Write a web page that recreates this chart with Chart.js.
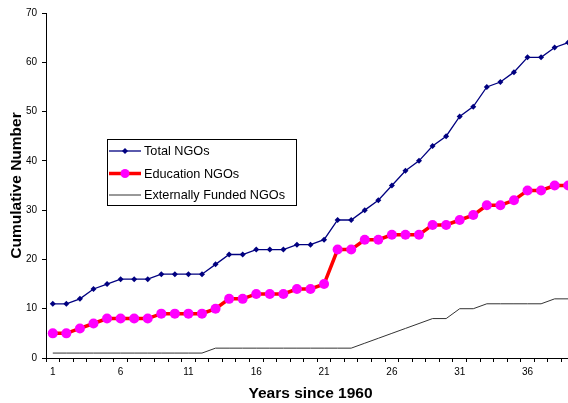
<!DOCTYPE html>
<html>
<head>
<meta charset="utf-8">
<script src="https://cdn.jsdelivr.net/npm/chart.js@4/dist/chart.umd.min.js"></script>
<style>
  html, body { margin: 0; padding: 0; background: #fff; overflow: hidden; }
  #wrap { width: 580px; height: 403px; position: relative; }
</style>
</head>
<body>
<div id="wrap"><canvas id="c"></canvas></div>
<script>
// Years since 1960 (category axis)
const years = [1,2,3,4,5,6,7,8,9,10,11,12,13,14,15,16,17,18,19,20,
               21,22,23,24,25,26,27,28,29,30,31,32,33,34,35,36,37,38,39];

// Cumulative counts per year
const totalNGOs = [11,11,12,14,15,16,16,16,17,17,17,17,19,21,21,22,22,22,23,23,
                   24,28,28,30,32,35,38,40,43,45,49,51,55,56,58,61,61,63,64];
const educationNGOs = [5,5,6,7,8,8,8,8,9,9,9,9,10,12,12,13,13,13,14,14,
                       15,22,22,24,24,25,25,25,27,27,28,29,31,31,32,34,34,35,35];
const externalNGOs = [1,1,1,1,1,1,1,1,1,1,1,1,2,2,2,2,2,2,2,2,
                      2,2,2,3,4,5,6,7,8,8,10,10,11,11,11,11,11,12,12];

const yTicks = [0,10,20,30,40,50,60,70];

const seriesNames = ['Total NGOs', 'Education NGOs', 'Externally Funded NGOs'];

const FONT = 'Arial, "Liberation Sans", sans-serif';

// Boxed legend drawn inside the plot area
const boxedLegend = {
  id: 'boxedLegend',
  afterDraw(chart) {
    const ctx = chart.ctx;
    const a = chart.chartArea;
    const x0 = a.left + 61, y0 = a.top + 126, w = 189, h = 66;
    ctx.save();
    ctx.fillStyle = '#fff';
    ctx.fillRect(x0, y0, w, h);
    ctx.strokeStyle = '#000';
    ctx.lineWidth = 1;
    ctx.strokeRect(x0 + 0.5, y0 + 0.5, w, h);
    const rows = [y0 + 12, y0 + 34.5, y0 + 56];
    const ds = chart.data.datasets;
    ctx.font = '12.7px ' + FONT;
    ctx.textBaseline = 'middle';
    rows.forEach((ry, i) => {
      const d = ds[i];
      ctx.strokeStyle = d.borderColor;
      ctx.lineWidth = d.borderWidth;
      ctx.beginPath();
      ctx.moveTo(x0 + 2, ry);
      ctx.lineTo(x0 + 34, ry);
      ctx.stroke();
      if (d.pointRadius > 0) {
        ctx.fillStyle = d.pointBackgroundColor;
        ctx.beginPath();
        if (d.pointStyle === 'circle') {
          ctx.arc(x0 + 18, ry, d.pointRadius - 0.5, 0, Math.PI * 2);
        } else {
          const r = d.pointRadius;
          ctx.moveTo(x0 + 18, ry - r);
          ctx.lineTo(x0 + 18 + r, ry);
          ctx.lineTo(x0 + 18, ry + r);
          ctx.lineTo(x0 + 18 - r, ry);
          ctx.closePath();
        }
        ctx.fill();
      }
      ctx.fillStyle = '#000';
      ctx.textAlign = 'left';
      ctx.fillText(seriesNames[i], x0 + 37, ry + 0.5);
    });
    ctx.restore();
  }
};

new Chart(document.getElementById('c'), {
  type: 'line',
  data: {
    labels: years,
    datasets: [
      {
        label: seriesNames[0],
        data: totalNGOs,
        borderColor: '#000080',
        backgroundColor: '#000080',
        pointBackgroundColor: '#000080',
        borderWidth: 1.3,
        pointStyle: 'rectRot',
        pointRadius: 3,
        pointBorderWidth: 0,
        tension: 0,
        order: 1
      },
      {
        label: seriesNames[1],
        data: educationNGOs,
        borderColor: '#ff0000',
        backgroundColor: '#ff00ff',
        pointBackgroundColor: '#ff00ff',
        borderWidth: 3.5,
        pointStyle: 'circle',
        pointRadius: 5,
        pointBorderWidth: 0,
        tension: 0,
        order: 2
      },
      {
        label: seriesNames[2],
        data: externalNGOs,
        borderColor: '#333333',
        backgroundColor: '#333333',
        pointBackgroundColor: '#333333',
        borderWidth: 1,
        pointRadius: 0,
        tension: 0,
        order: 3
      }
    ]
  },
  options: {
    responsive: true,
    maintainAspectRatio: false,
    animation: false,
    events: [],
    layout: { padding: { top: 13, right: 5, left: 0, bottom: 0 } },
    plugins: {
      legend: { display: false },
      tooltip: { enabled: false }
    },
    scales: {
      x: {
        type: 'category',
        offset: true,
        grid: {
          display: true,
          drawOnChartArea: false,
          offset: true,
          tickLength: 4,
          color: '#000'
        },
        border: { color: '#000', width: 1 },
        ticks: {
          autoSkip: false,
          maxRotation: 0,
          padding: 4,
          color: '#000',
          font: { family: FONT, size: 10 },
          callback: (v, i) => (i % 5 === 0 ? String(years[i]) : '')
        },
        title: {
          display: true,
          text: 'Years since 1960',
          color: '#000',
          font: { family: FONT, size: 15.5, weight: 'bold' },
          padding: { top: 10, bottom: 0 }
        },
        afterFit(scale) { scale.height = 45; }
      },
      y: {
        min: 0,
        max: 70,
        afterBuildTicks(scale) { scale.ticks = yTicks.map(v => ({ value: v })); },
        grid: {
          display: true,
          drawOnChartArea: false,
          tickLength: 4,
          color: '#000'
        },
        border: { color: '#000', width: 1 },
        ticks: {
          padding: 5,
          color: '#000',
          font: { family: FONT, size: 10 }
        },
        title: {
          display: true,
          text: 'Cumulative Number',
          color: '#000',
          font: { family: FONT, size: 15.5, weight: 'bold' },
          padding: { top: 7, bottom: 0 }
        },
        afterFit(scale) { scale.width = 46; }
      }
    }
  },
  plugins: [boxedLegend]
});
</script>
</body>
</html>
